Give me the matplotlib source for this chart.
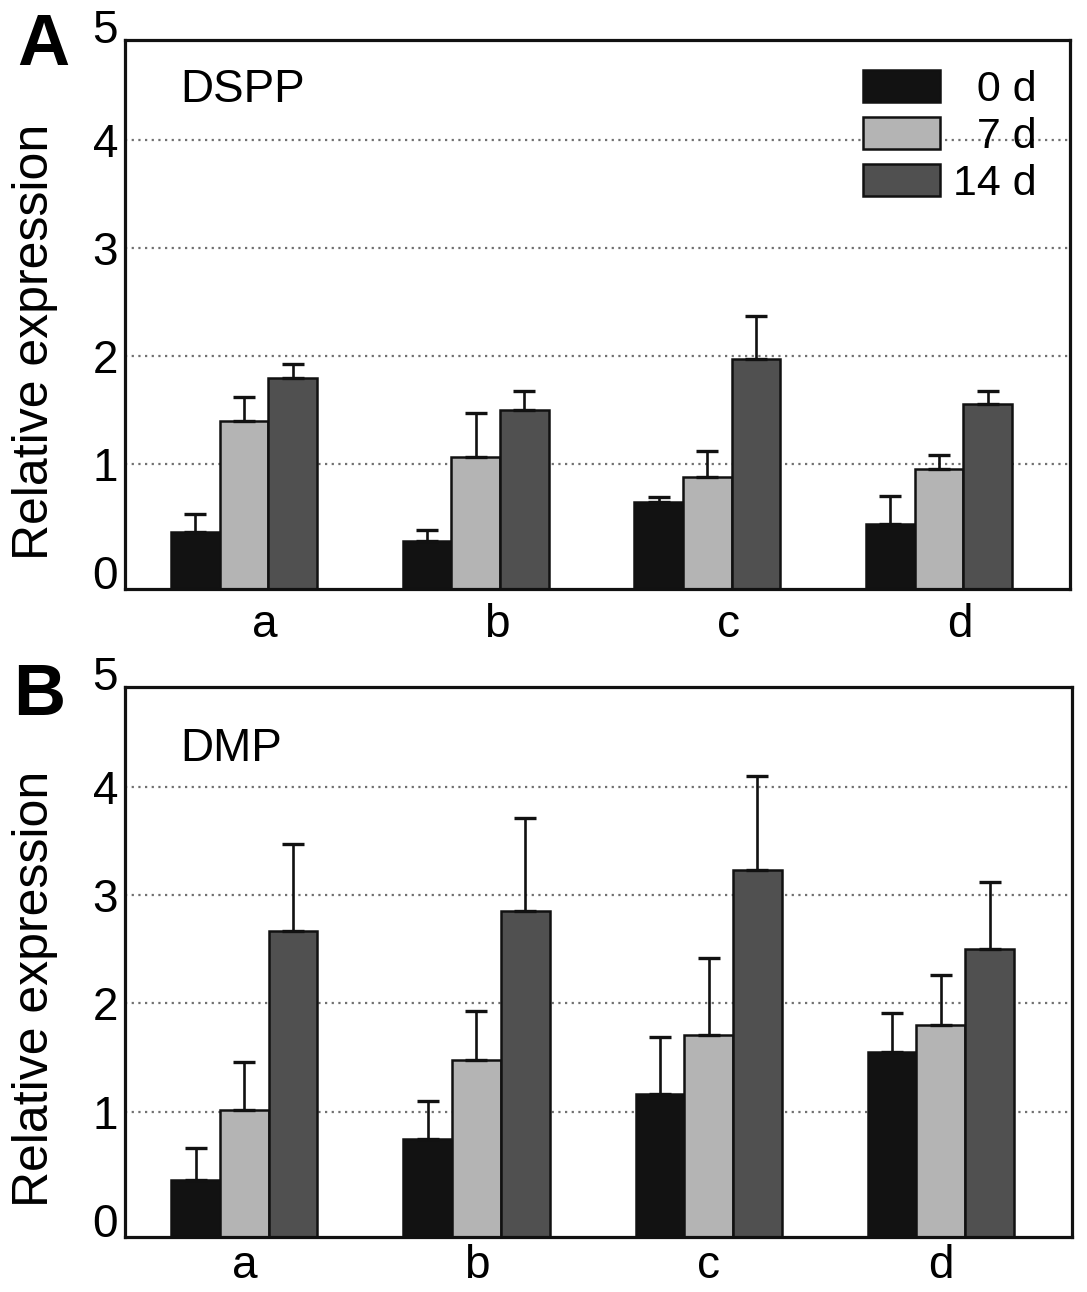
import matplotlib
matplotlib.use("Agg")
import matplotlib.pyplot as plt
import matplotlib.transforms as mtransforms
from matplotlib.patches import Patch
import numpy as np

plt.rcParams["font.family"] = ["Liberation Sans", "DejaVu Sans"]

# ── Data ──────────────────────────────────────────────────────────────────────
groups = ["a", "b", "c", "d"]
series = ["0 d", "7 d", "14 d"]

dspp_0d = [0.37, 0.29, 0.65, 0.45]
dspp_7d = [1.40, 1.07, 0.88, 0.96]
dspp_14d = [1.80, 1.50, 1.97, 1.56]
dspp_err_0d = [0.17, 0.10, 0.05, 0.26]
dspp_err_7d = [0.22, 0.40, 0.24, 0.13]
dspp_err_14d = [0.13, 0.18, 0.40, 0.12]

dmp_0d = [0.37, 0.75, 1.17, 1.55]
dmp_7d = [1.02, 1.48, 1.71, 1.80]
dmp_14d = [2.67, 2.85, 3.23, 2.50]
dmp_err_0d = [0.30, 0.35, 0.52, 0.36]
dmp_err_7d = [0.44, 0.45, 0.71, 0.46]
dmp_err_14d = [0.80, 0.86, 0.87, 0.62]

COLORS = ["#121212", "#b4b4b4", "#505050"]
BAR_W = 0.21
Y_MIN, Y_MAX = -0.15, 4.92
X_MIN, X_MAX = -0.514, 3.565
GRID_VALUES = [1, 2, 3, 4]
YTICKS = [0, 1, 2, 3, 4]

W, H = 1087, 1292
fig = plt.figure(figsize=(W / 100, H / 100), dpi=100)
ax_a = fig.add_axes([125 / W, 1 - 588.7 / H, 945 / W, 548.7 / H])
ax_b = fig.add_axes([125 / W, 1 - 1236.7 / H, 947 / W, 550 / H])


def draw_panel(ax, vals, errs, gene, label_shift, gene_y, xpad):
    x = np.arange(len(groups))
    for i, (v, e) in enumerate(zip(vals, errs)):
        xi = x + (i - 1) * BAR_W
        v = np.asarray(v)
        # bars rise from the bottom spine, as in the original figure
        ax.bar(xi, v - Y_MIN, bottom=Y_MIN, width=BAR_W, color=COLORS[i],
               edgecolor="#111111", linewidth=1.8, zorder=2, label=series[i])
        ax.errorbar(xi, v, yerr=[np.zeros(len(v)), e], fmt="none",
                    ecolor="#111111", elinewidth=1.9, capsize=8, capthick=2.4,
                    zorder=3)
    ax.set_xlim(X_MIN, X_MAX)
    ax.set_ylim(Y_MIN, Y_MAX)
    ax.hlines(GRID_VALUES, X_MIN, X_MAX, colors="#707070", linewidth=1.6,
              linestyles=(0, (1, 2)), zorder=1)
    for sp in ax.spines.values():
        sp.set_linewidth(2.3)
        sp.set_color("#111111")
    ax.set_xticks(x + label_shift)
    ax.set_xticklabels(groups, fontsize=33)
    ax.set_yticks(YTICKS)
    ax.set_yticklabels([str(t) for t in YTICKS], fontsize=33)
    ax.tick_params(axis="x", length=0, pad=xpad)
    ax.tick_params(axis="y", length=0, pad=5)
    # "5" sits just above the top spine
    trans = mtransforms.blended_transform_factory(ax.transAxes, ax.transData)
    ax.text(-0.0074, 5.0, "5", transform=trans, ha="right", va="center",
            fontsize=33, clip_on=False)
    ax.text(0.058, gene_y, gene, transform=ax.transAxes, fontsize=33,
            va="baseline", ha="left")
    ax.text(-0.0952, 0.45, "Relative expression", transform=ax.transAxes,
            rotation=90, ha="center", va="center", fontsize=36)


draw_panel(ax_a, [dspp_0d, dspp_7d, dspp_14d],
           [dspp_err_0d, dspp_err_7d, dspp_err_14d], "DSPP", 0.09, 0.887, 10)
draw_panel(ax_b, [dmp_0d, dmp_7d, dmp_14d],
           [dmp_err_0d, dmp_err_7d, dmp_err_14d], "DMP", 0.0, 0.865, 5)

handles = [Patch(facecolor=c, edgecolor="#111111", linewidth=1.8) for c in COLORS]
leg_labels = ["\u20070 d", "\u20077 d", "14 d"]
leg = ax_a.legend(handles, leg_labels, loc="upper right",
                  bbox_to_anchor=(0.997, 1.0), frameon=False, fontsize=31,
                  handlelength=1.8, handleheight=0.74, handletextpad=0.3,
                  labelspacing=0.16, borderpad=0.2)

fig.text(17 / W, 1 - 65 / H, "A", fontsize=52, fontweight="bold",
         va="baseline", ha="left")
fig.text(13 / W, 1 - 715 / H, "B", fontsize=52, fontweight="bold",
         va="baseline", ha="left")

fig.savefig("out.png", dpi=100, facecolor="white")
